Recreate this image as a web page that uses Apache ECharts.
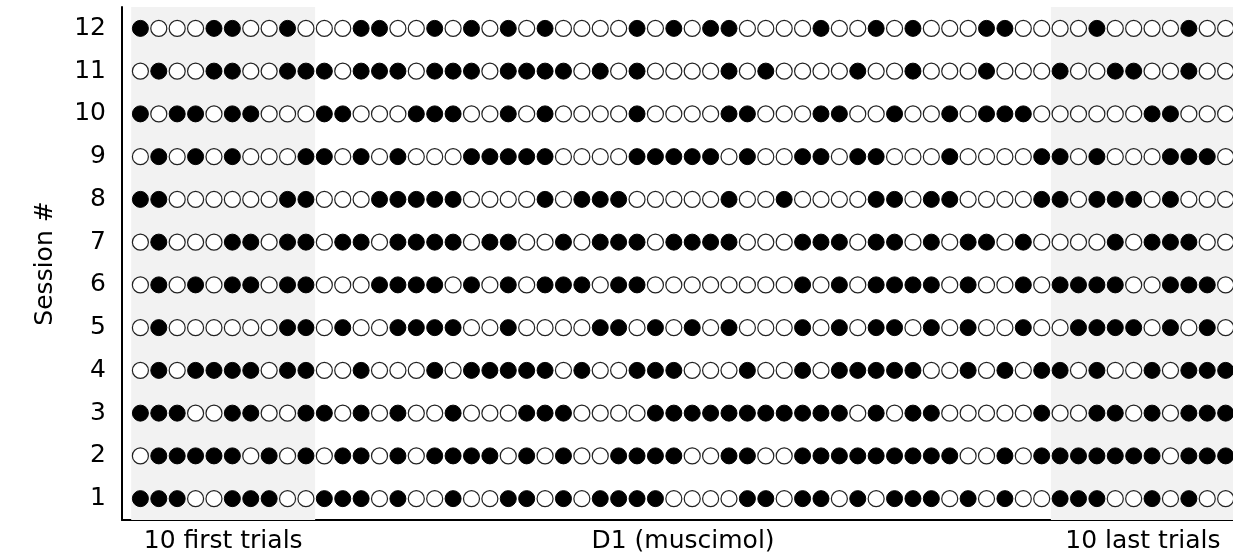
<!DOCTYPE html>
<html>
<head>
<meta charset="utf-8">
<script src="https://cdn.jsdelivr.net/npm/echarts@6/dist/echarts.min.js"></script>
<style>
  html, body { margin: 0; padding: 0; background: #fff; }
  #chart { width: 1233px; height: 560px; }
</style>
</head>
<body>
<div id="chart"></div>
<script>
// 1 = filled circle, 0 = empty circle; 60 trials per session
var session1  = [1,1,1,0,0,1,1,1,0,0,1,1,1,0,1, 0,0,1,0,0,1,1,0,1,0,1,1,1,1,0, 0,0,0,1,1,0,1,1,0,1,0,1,1,1,0, 1,0,1,0,0,1,1,1,0,0,1,0,1,0,0];
var session2  = [0,1,1,1,1,1,0,1,0,1,0,1,1,0,1, 0,1,1,1,1,0,1,0,1,0,0,1,1,1,1, 0,0,1,1,0,0,1,1,1,1,1,1,1,1,1, 0,0,1,0,1,1,1,1,1,1,1,0,1,1,1];
var session3  = [1,1,1,0,0,1,1,0,0,1,1,0,1,0,1, 0,0,1,0,0,0,1,1,1,0,0,0,0,1,1, 1,1,1,1,1,1,1,1,1,0,1,0,1,1,0, 0,0,0,0,1,0,0,1,1,0,1,0,1,1,1];
var session4  = [0,1,0,1,1,1,1,0,1,1,0,0,1,0,0, 0,1,0,1,1,1,1,1,0,1,0,0,1,1,1, 0,0,0,1,0,0,1,0,1,1,1,1,1,0,0, 1,0,1,0,1,1,0,1,0,0,1,0,1,1,1];
var session5  = [0,1,0,0,0,0,0,0,1,1,0,1,0,0,1, 1,1,1,0,0,1,0,0,0,0,1,1,0,1,0, 1,0,1,0,0,0,1,0,1,0,1,1,0,1,0, 1,0,0,1,0,0,1,1,1,1,0,1,0,1,0];
var session6  = [0,1,0,1,0,1,1,0,1,1,0,0,0,1,1, 1,1,0,1,0,1,0,1,1,1,0,1,1,0,0, 0,0,0,0,0,0,1,0,1,0,1,1,1,1,0, 1,0,0,1,0,1,1,1,1,0,0,1,1,1,0];
var session7  = [0,1,0,0,0,1,1,0,1,1,0,1,1,0,1, 1,1,1,0,1,1,0,0,1,0,1,1,1,0,1, 1,1,1,0,0,0,1,1,1,0,1,1,0,1,0, 1,1,0,1,0,0,0,0,1,0,1,1,1,0,0];
var session8  = [1,1,0,0,0,0,0,0,1,1,0,0,0,1,1, 1,1,1,0,0,0,0,1,0,1,1,1,0,0,0, 0,0,1,0,0,1,0,0,0,0,1,1,0,1,1, 0,0,0,0,1,1,0,1,1,1,0,1,0,0,0];
var session9  = [0,1,0,1,0,1,0,0,0,1,1,0,1,0,1, 0,0,0,1,1,1,1,1,0,0,0,0,1,1,1, 1,1,0,1,0,0,1,1,0,1,1,0,0,0,1, 0,0,0,0,1,1,0,1,0,0,0,1,1,1,0];
var session10 = [1,0,1,1,0,1,1,0,0,0,1,1,0,0,0, 1,1,1,0,0,1,0,1,0,0,0,0,1,0,0, 0,0,1,1,0,0,0,1,1,0,0,1,0,0,1, 0,1,1,1,0,0,0,0,0,0,1,1,0,0,0];
var session11 = [0,1,0,0,1,1,0,0,1,1,1,0,1,1,1, 0,1,1,1,0,1,1,1,1,0,1,0,1,0,0, 0,0,1,0,1,0,0,0,0,1,0,0,1,0,0, 0,1,0,0,0,1,0,0,1,1,0,0,1,0,0];
var session12 = [1,0,0,0,1,1,0,0,1,0,0,0,1,1,0, 0,1,0,1,0,1,0,1,0,0,0,0,1,0,1, 0,1,1,0,0,0,0,1,0,0,1,0,1,0,0, 0,1,1,0,0,0,0,1,0,0,0,0,1,0,0];

var sessions = [session1, session2, session3, session4, session5, session6,
                session7, session8, session9, session10, session11, session12];
var sessionLabels = ["1","2","3","4","5","6","7","8","9","10","11","12"];

// visible trial range (last trial is cut by the right edge), grey blocks, x labels
var xMin = -1;
var xMax = 59.4;
var firstBlock = [-0.5, 9.5];
var lastBlock = [49.5, 59.4];
var xLabelPos = [4.5, 29.5, 54.5];
var xLabelText = ["10 first trials", "D1 (muscimol)", "10 last trials"];

var filled = [];
var empty = [];
sessions.forEach(function (row, s) {
  row.forEach(function (v, t) {
    if (v) filled.push([t, s]);
    else empty.push([t, s]);
  });
});

var font = "DejaVu Sans";
var chart = echarts.init(document.getElementById("chart"));
var option = {
  animation: false,
  backgroundColor: "#fff",
  grid: { left: 122, right: 0, top: 7, bottom: 40 },
  xAxis: {
    type: "value",
    min: xMin,
    max: xMax,
    splitLine: { show: false },
    axisTick: { show: false },
    axisLine: { show: true, onZero: false, lineStyle: { color: "#000", width: 2 } },
    axisLabel: {
      customValues: xLabelPos,
      formatter: function (v) {
        var i = xLabelPos.indexOf(v);
        return i >= 0 ? xLabelText[i] : "";
      },
      color: "#000",
      fontFamily: font,
      fontSize: 25,
      margin: 9
    }
  },
  yAxis: {
    type: "category",
    data: sessionLabels,
    name: "Session #",
    nameLocation: "middle",
    nameGap: 64,
    nameTextStyle: { color: "#000", fontFamily: font, fontSize: 25 },
    axisLine: { show: true, onZero: false, lineStyle: { color: "#000", width: 2 } },
    axisTick: { alignWithLabel: true, length: 7, lineStyle: { color: "#000", width: 1.5 } },
    axisLabel: { color: "#000", fontFamily: font, fontSize: 25, margin: 16 },
    splitLine: { show: false }
  },
  series: [
    {
      type: "scatter",
      data: [],
      z: -1,
      silent: true,
      markArea: {
        silent: true,
        itemStyle: { color: "#f2f2f2" },
        data: [
          [{ xAxis: firstBlock[0] }, { xAxis: firstBlock[1] }],
          [{ xAxis: lastBlock[0] }, { xAxis: lastBlock[1] }]
        ]
      }
    },
    {
      type: "scatter",
      data: empty,
      symbol: "circle",
      symbolSize: 16,
      silent: true,
      itemStyle: { color: "#fff", borderColor: "#222", borderWidth: 1.2, opacity: 1 }
    },
    {
      type: "scatter",
      data: filled,
      symbol: "circle",
      symbolSize: 16,
      silent: true,
      itemStyle: { color: "#000", borderColor: "#000", borderWidth: 1, opacity: 1 }
    }
  ]
};
chart.setOption(option);
</script>
</body>
</html>
